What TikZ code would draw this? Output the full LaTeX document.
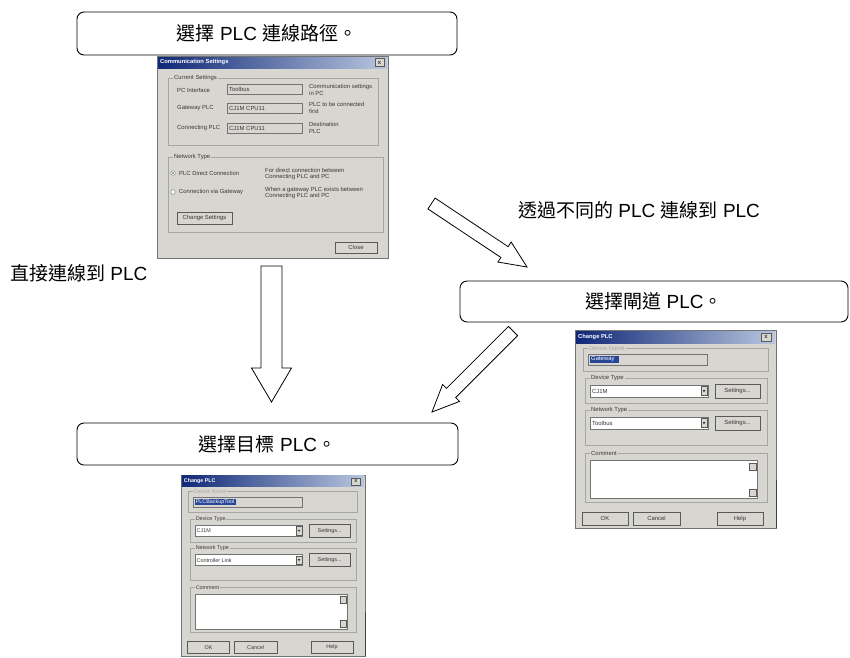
\documentclass[tikz,border=0pt]{standalone}
\usepackage{fontspec}
\setmainfont{Liberation Sans}
\newfontfamily\cjk{Noto Sans CJK TC}
\usetikzlibrary{calc}
\definecolor{face}{RGB}{216,214,208}
\definecolor{tdark}{RGB}{16,40,120}
\definecolor{tlight}{RGB}{184,198,222}
\definecolor{selblue}{RGB}{40,70,150}
\definecolor{dlgtext}{RGB}{55,55,55}
\tikzset{
  stepbox/.style={draw, rounded corners=7pt, line width=0.9pt, inner sep=0pt},
  steplbl/.style={font=\fontsize{19}{22}\selectfont, inner sep=0pt},
  bigarrow/.style={draw, fill=white, line width=0.8pt, line join=miter},
  dtext/.style={font=\fontsize{5.9}{6.9}\selectfont, inner sep=0pt, anchor=west, text=dlgtext, align=left},
  dtitle/.style={font=\bfseries\fontsize{5.8}{6.8}\selectfont, inner sep=0pt, anchor=west, text=white},
  dbutton/.style={fill=face, draw=black!65, line width=0.5pt},
  dfield/.style={fill=white, draw=black!55, line width=0.4pt},
  dfieldgray/.style={fill=face, draw=black!55, line width=0.4pt},
  dgroup/.style={draw=black!35, line width=0.4pt},
  dglabel/.style={dtext, fill=face, inner xsep=1pt},
}
% block arrow: #1 tail, #2 tip, #3 shaft half width, #4 head half width, #5 head length
\newcommand\barrow[5]{%
  \coordinate (bj) at ($(#2)!#5!(#1)$);
  \draw[bigarrow] ($(#1)!#3!90:(#2)$) -- ($(bj)!#3!90:(#2)$) -- ($(bj)!#4!90:(#2)$)
    -- (#2) -- ($(bj)!#4!-90:(#2)$) -- ($(bj)!#3!-90:(#2)$) -- ($(#1)!#3!-90:(#2)$) -- cycle;}
\newcommand\dbtn[3]{% corner, corner, text
  \draw[dbutton] (#1) rectangle (#2);
  \node[dtext, anchor=center] (btn) at ($(#1)!0.5!(#2)$) {#3};}
\newcommand\dropbtn[2]{% x, y (top-left)
  \draw[dbutton] (#1,#2) rectangle ++(6,9);
  \fill[black!80] ($(#1,#2)+(1.6,3.5)$) -- ++(2.8,0) -- ++(-1.4,2.2) -- cycle;}
% Change PLC dialog, local coords 201 x 198
\newcommand\changeplc[4]{%
  \fill[face] (0,0) rectangle (201,198);
  \draw[black!55, line width=0.5pt] (0,0) rectangle (201,198);
  \draw[black!75, line width=0.7pt] (201.5,150) -- (201.5,198);
  \shade[left color=tdark, right color=tlight] (1,1) rectangle (200,13);
  \node[dtitle] (ct) at (3,7) {Change PLC};
  \dbtn{186,3}{196,11}{\textbf{x}}
  \draw[dgroup] (8,18) rectangle (193,41);
  \node[dglabel, text=black!35] (cdn) at (13,18) {Device Name};
  \draw[dfieldgray] (13,24) rectangle (132,35);
  \fill[selblue] (15,26) rectangle (#2,33);
  \node[dtext, text=white] (csel) at (16,29.5) {#1};
  \draw[dgroup] (10,48) rectangle (192,73);
  \node[dglabel] (cdt) at (15,48) {Device Type};
  \draw[dfield] (15,55) rectangle (133,67);
  \node[dtext] (cdtv) at (17,61) {#3};
  \dropbtn{126}{56.5}
  \dbtn{140,54}{185,68}{Settings...}
  \draw[dgroup] (10,80) rectangle (192,115);
  \node[dglabel] (cnt) at (15,80) {Network Type};
  \draw[dfield] (15,87) rectangle (133,99);
  \node[dtext] (cntv) at (17,93) {#4};
  \dropbtn{126}{88.5}
  \dbtn{140,86}{185,100}{Settings...}
  \draw[dgroup] (10,123) rectangle (192,172);
  \node[dglabel] (ccm) at (15,123) {Comment};
  \draw[dfield] (15,130) rectangle (182,168);
  \draw[dbutton] (174,133) rectangle (181,140);
  \draw[dbutton] (174,159) rectangle (181,166);
  \dbtn{7,182}{53,195}{OK}
  \dbtn{58,182}{105,195}{Cancel}
  \dbtn{142,182}{188,195}{Help}
}
\begin{document}
\begin{tikzpicture}[x=1pt, y=-1pt]
\fill[white] (0,0) rectangle (850,657);
\clip (0,0) rectangle (850,657);

% step boxes
\node[stepbox, minimum width=380pt, minimum height=43pt] (s1) at (267,33.5) {};
\node[steplbl] (s1t) at (s1) {{\cjk 選擇} PLC {\cjk 連線路徑。}};
\node[stepbox, minimum width=388pt, minimum height=41pt] (s2) at (654,301.5) {};
\node[steplbl] (s2t) at (s2) {{\cjk 選擇閘道} PLC{\cjk 。}};
\node[stepbox, minimum width=381pt, minimum height=42pt] (s3) at (267.5,444) {};
\node[steplbl] (s3t) at (s3) {{\cjk 選擇目標} PLC{\cjk 。}};

% labels
\node[steplbl, anchor=west] (l1) at (10,273) {{\cjk 直接連線到} PLC};
\node[steplbl, anchor=west] (l2) at (518,210) {{\cjk 透過不同的} PLC {\cjk 連線到} PLC};

% arrows
\coordinate (a1t) at (271.5,266);
\coordinate (a1p) at (271.5,402);
\barrow{a1t}{a1p}{10.5pt}{20pt}{34pt}
\coordinate (a2t) at (431.5,203.5);
\coordinate (a2p) at (527,267);
\barrow{a2t}{a2p}{6.5pt}{12pt}{27pt}
\coordinate (a3t) at (513,331);
\coordinate (a3p) at (432,412);
\barrow{a3t}{a3p}{6.5pt}{12pt}{27pt}

% Communication Settings dialog
\begin{scope}[shift={(157,56)}]
  \fill[face] (0,0) rectangle (231,202);
  \draw[black!55, line width=0.5pt] (0,0) rectangle (231,202);
  \shade[left color=tdark, right color=tlight] (1,1) rectangle (230,12);
  \node[dtitle] (mt) at (3,6.5) {Communication Settings};
  \dbtn{218,2.5}{227,10.5}{\textbf{x}}
  \draw[dgroup] (11,22) rectangle (221,89);
  \node[dglabel] (mcs) at (16,22) {Current Settings};
  \node[dtext] (m1) at (20,34) {PC Interface};
  \draw[dfieldgray] (70,28) rectangle (145,38);
  \node[dtext] (m1v) at (72,33) {Toolbus};
  \node[dtext] (m1r) at (152,34) {Communication settings\\in PC};
  \node[dtext] (m2) at (20,52) {Gateway PLC};
  \draw[dfieldgray] (70,47) rectangle (145,57);
  \node[dtext] (m2v) at (72,52) {CJ1M CPU11};
  \node[dtext] (m2r) at (152,52) {PLC to be connected\\first};
  \node[dtext] (m3) at (20,72) {Connecting PLC};
  \draw[dfieldgray] (70,67) rectangle (145,77);
  \node[dtext] (m3v) at (72,72) {CJ1M CPU11};
  \node[dtext] (m3r) at (152,72) {Destination\\PLC};
  \draw[dgroup] (11,101) rectangle (226,176);
  \node[dglabel] (mnt) at (16,101) {Network Type};
  \draw[fill=white, draw=black!55, line width=0.4pt] (16,117) circle (2.3);
  \fill[black!70] (16,117) circle (0.9);
  \node[dtext] (mr1) at (22,117) {PLC Direct Connection};
  \node[dtext] (mr1r) at (108,118) {For direct connection between\\Connecting PLC and PC};
  \draw[fill=white, draw=black!55, line width=0.4pt] (16,136) circle (2.3);
  \node[dtext] (mr2) at (22,136) {Connection via Gateway};
  \node[dtext] (mr2r) at (108,137) {When a gateway PLC exists between\\Connecting PLC and PC};
  \dbtn{20,156}{75,168}{Change Settings}
  \dbtn{178,186}{220,197}{Close}
\end{scope}

% Change PLC (gateway)
\begin{scope}[shift={(575,330)}]
  \changeplc{Gateway}{44}{CJ1M}{Toolbus}
\end{scope}

% Change PLC (target)
\begin{scope}[shift={(181,475)}, scale=0.915, transform shape]
  \changeplc{PLCBackupTool}{60}{CJ1M}{Controller Link}
\end{scope}
\end{tikzpicture}
\end{document}
